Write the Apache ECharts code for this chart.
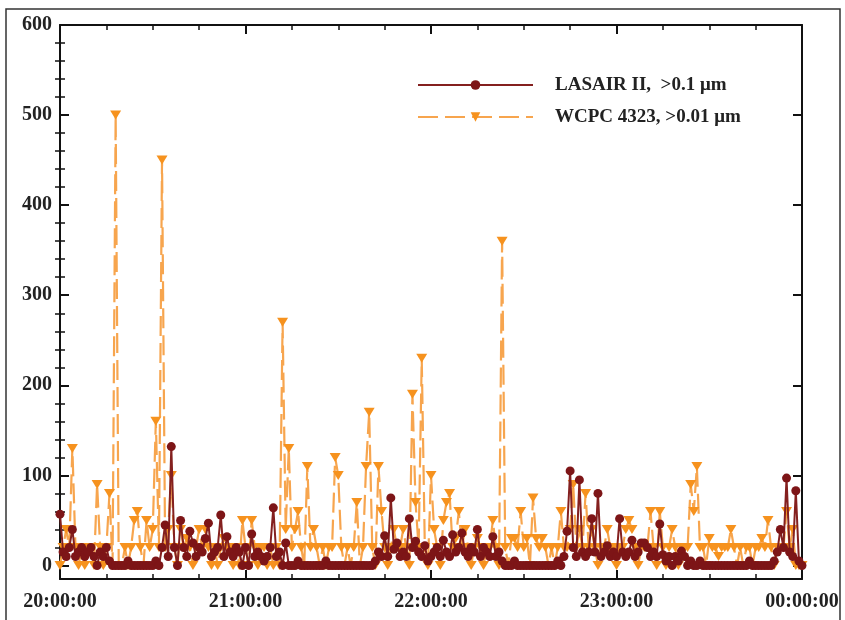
<!DOCTYPE html>
<html><head><meta charset="utf-8">
<script src="https://cdn.jsdelivr.net/npm/echarts@6/dist/echarts.min.js"></script>
<style>html,body{margin:0;padding:0;background:#fff}#c{width:845px;height:620px}</style>
</head><body><div id="c"></div>
<script>
// tick labels
const timeLabels = ['20:00:00', '21:00:00', '22:00:00', '23:00:00', '00:00:00'];
const yMajorTicks = [0, 100, 200, 300, 400, 500, 600];
const yMinorTicks = [20, 40, 60, 80, 120, 140, 160, 180, 220, 240, 260, 280, 320, 340, 360, 380, 420, 440, 460, 480, 520, 540, 560, 580];
const seriesNames = ['LASAIR II,  >0.1 \u03bcm', 'WCPC 4323, >0.01 \u03bcm'];

// one value per minute, 20:00 .. 00:00
const lasair = [
  57,15,10,20,40,10,15,20,10,15,
  20,10,0,15,10,20,5,0,0,0,
  0,0,5,0,0,0,0,0,0,0,
  0,5,0,20,45,10,132,20,0,50,
  20,10,38,25,10,20,15,30,47,10,
  15,20,56,10,32,15,10,20,15,0,
  20,0,35,10,15,10,5,10,20,64,
  10,15,0,25,0,0,0,5,0,0,
  0,0,0,0,0,0,5,0,0,0,
  0,0,0,0,0,0,0,0,0,0,
  0,0,5,15,10,33,10,75,18,25,
  10,15,10,52,20,27,15,10,22,5,
  10,15,20,10,28,15,10,34,15,20,
  36,15,10,20,15,40,10,20,15,10,
  32,10,15,5,0,0,0,5,0,0,
  0,0,0,0,0,0,0,0,0,0,
  0,5,0,10,38,105,20,10,95,15,
  10,15,52,15,80,10,15,22,10,15,
  10,52,15,10,15,28,10,15,25,25,
  20,10,15,10,46,12,5,10,0,10,
  5,16,10,0,5,0,0,5,0,0,
  0,0,0,0,0,0,0,0,0,0,
  0,0,0,5,0,0,0,0,0,0,
  0,5,15,40,20,97,15,10,83,5,0
];
const wcpc = [
  0,20,40,20,130,20,0,20,0,20,
  20,0,90,20,0,20,80,0,500,0,
  0,20,0,20,50,60,20,0,50,20,
  40,160,20,450,20,40,100,20,0,40,
  20,30,20,0,20,40,20,40,20,0,
  20,0,20,30,20,20,0,20,0,50,
  20,0,50,20,0,20,20,0,20,0,
  20,0,270,40,130,20,40,60,20,0,
  110,20,40,20,0,20,0,20,20,120,
  100,20,0,20,0,20,70,0,20,110,
  170,20,0,110,60,20,0,20,40,20,
  20,40,20,0,190,70,20,230,20,0,
  100,40,20,0,50,70,80,20,30,60,
  20,40,20,0,20,30,20,0,20,20,
  50,20,0,360,20,0,30,30,20,60,
  20,30,0,75,30,20,30,20,0,20,
  0,20,60,20,20,40,90,20,40,20,
  80,20,40,20,0,20,20,40,20,20,
  0,20,20,40,50,40,20,0,20,20,
  20,60,20,0,60,20,0,20,40,20,
  0,20,20,20,90,60,110,20,20,0,
  30,20,20,10,20,20,20,40,20,0,
  20,0,20,20,0,20,20,30,20,50,
  20,0,20,20,20,60,20,40,0,0,0
];

const toPairs = arr => arr.map((v, i) => [i, v]);
const FONT = '"Liberation Serif", "Times New Roman", serif';
const axisLineStyle = { color: '#111', width: 2 };

const xBase = {
  type: 'value', min: 0, max: 240, interval: 60,
  axisLine: { show: true, onZero: false, lineStyle: axisLineStyle },
  axisTick: { show: true, inside: true, length: 9, lineStyle: { color: '#111', width: 2 } },
  minorTick: { show: true, splitNumber: 4, length: 5, lineStyle: { color: '#111', width: 1.5 } },
  splitLine: { show: false }
};
const yBase = {
  type: 'value', min: -15, max: 600,
  axisLine: { show: true, onZero: false, lineStyle: axisLineStyle },
  splitLine: { show: false }
};

const chart = echarts.init(document.getElementById('c'), null, { renderer: 'canvas' });
chart.setOption({
  animation: false,
  backgroundColor: '#fff',
  graphic: [{
    type: 'rect', silent: true, z: -1,
    shape: { x: 6, y: 9, width: 834, height: 640 },
    style: { fill: 'none', stroke: '#333', lineWidth: 1.5 }
  }],
  grid: { left: 60, right: 43, top: 25, bottom: 41, containLabel: false },
  legend: {
    orient: 'vertical', left: 412, top: 70,
    itemWidth: 115, itemHeight: 12, itemGap: 12,
    data: seriesNames,
    textStyle: { fontFamily: FONT, fontWeight: 'bold', fontSize: 19, color: '#222', padding: [0, 0, 0, 17], lineHeight: 20 }
  },
  xAxis: [
    Object.assign({}, xBase, {
      position: 'bottom',
      axisLabel: {
        show: true, margin: 13, color: '#222', fontFamily: FONT, fontWeight: 'bold', fontSize: 20,
        formatter: v => timeLabels[Math.round(v / 60)]
      }
    }),
    Object.assign({}, xBase, { position: 'top', axisLabel: { show: false } })
  ],
  yAxis: [
    Object.assign({}, yBase, {
      position: 'left',
      axisTick: { show: true, inside: true, length: 9, customValues: yMajorTicks, lineStyle: { color: '#111', width: 2 } },
      axisLabel: { show: true, margin: 8, customValues: yMajorTicks, color: '#222', fontFamily: FONT, fontWeight: 'bold', fontSize: 20 }
    }),
    Object.assign({}, yBase, {
      position: 'left',
      axisLine: { show: false },
      axisTick: { show: true, inside: true, length: 5, customValues: yMinorTicks, lineStyle: { color: '#111', width: 1.5 } },
      axisLabel: { show: false }
    }),
    Object.assign({}, yBase, {
      position: 'right',
      axisTick: { show: true, inside: true, length: 9, customValues: yMajorTicks, lineStyle: { color: '#111', width: 2 } },
      axisLabel: { show: false }
    }),
    Object.assign({}, yBase, {
      position: 'right',
      axisLine: { show: false },
      axisTick: { show: true, inside: true, length: 5, customValues: yMinorTicks, lineStyle: { color: '#111', width: 1.5 } },
      axisLabel: { show: false }
    })
  ],
  series: [
    {
      name: seriesNames[1], type: 'line', xAxisIndex: 0, yAxisIndex: 0,
      data: toPairs(wcpc),
      symbol: 'triangle', symbolRotate: 180, symbolSize: [11, 9], showAllSymbol: true,
      itemStyle: { color: '#f6921e' },
      lineStyle: { color: '#f7a54e', width: 2.2, type: [20, 7] },
      z: 2
    },
    {
      name: seriesNames[0], type: 'line', xAxisIndex: 0, yAxisIndex: 0,
      data: toPairs(lasair),
      symbol: 'circle', symbolSize: 9, showAllSymbol: true,
      itemStyle: { color: '#7d1517' },
      lineStyle: { color: '#84201f', width: 2 },
      z: 3
    }
  ]
});
</script>
</body></html>
